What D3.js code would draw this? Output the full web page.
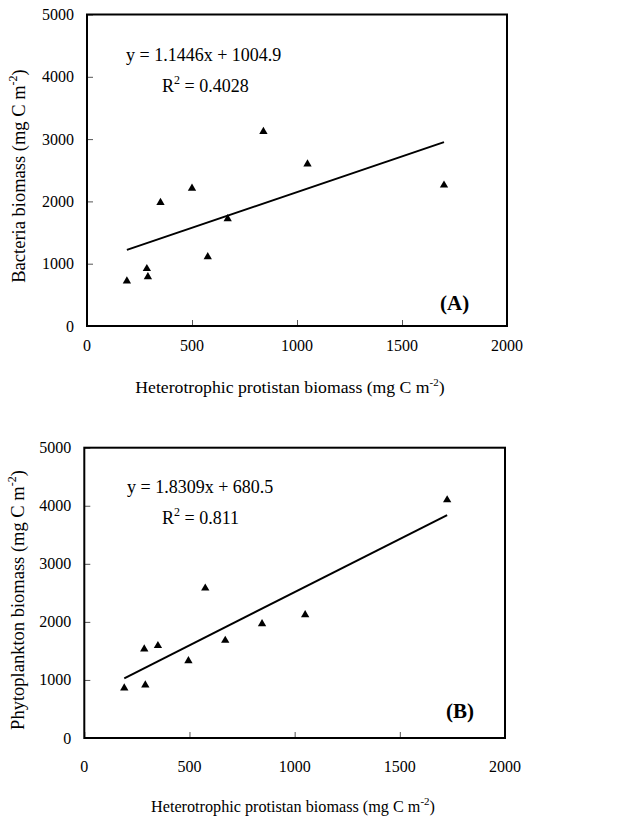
<!DOCTYPE html>
<html>
<head>
  <script src="https://d3js.org/d3.v7.min.js"></script>
  <style>
    body { margin: 0; background: #fff; }
    text { font-family: "Liberation Serif", "Times New Roman", serif; fill: #000; }
    .frame { fill: none; stroke: #000; stroke-width: 2px; }
    .tick line { stroke: #555; }
    .domain { stroke: none; }
  </style>
</head>
<body>
  <svg id="chart" width="626" height="819"></svg>
  <script>
    // panel A: bacteria vs heterotrophic protists
    const protistA = [190, 285, 290, 350, 500, 575, 670, 840, 1050, 1700];
    const bacteria = [720, 920, 790, 1980, 2210, 1110, 1720, 3120, 2600, 2260];
    // panel B: phytoplankton vs heterotrophic protists
    const protistB = [190, 285, 290, 350, 495, 575, 670, 845, 1050, 1725];
    const phyto = [860, 1530, 910, 1590, 1330, 2580, 1680, 1965, 2120, 4100];

    const xTicks = [0, 500, 1000, 1500, 2000];
    const yTicks = [0, 1000, 2000, 3000, 4000, 5000];
    const fitA = { slope: 1.1446, intercept: 1004.9, eq: "y = 1.1446x + 1004.9", r2: " = 0.4028" };
    const fitB = { slope: 1.8309, intercept: 680.5, eq: "y = 1.8309x + 680.5", r2: " = 0.811" };

    const svg = d3.select("svg#chart");

    function drawPanel(cfg) {
      const x = d3.scaleLinear().domain([0, 2000]).range([cfg.left, cfg.right]);
      const y = d3.scaleLinear().domain([0, 5000]).range([cfg.bottom, cfg.top]);
      const g = svg.append("g");

      // inside ticks
      g.append("g")
        .attr("transform", "translate(0," + cfg.bottom + ")")
        .call(d3.axisTop(x).tickValues(xTicks).tickSize(6).tickFormat(""));
      g.append("g")
        .attr("transform", "translate(" + cfg.left + ",0)")
        .call(d3.axisRight(y).tickValues(yTicks).tickSize(6).tickFormat(""));

      g.append("rect").attr("class", "frame")
        .attr("x", cfg.left).attr("y", cfg.top)
        .attr("width", cfg.right - cfg.left).attr("height", cfg.bottom - cfg.top);

      g.selectAll(".xl").data(xTicks).join("text")
        .attr("x", d => x(d)).attr("y", cfg.xLabelY)
        .attr("text-anchor", "middle")
        .style("font-size", "16px")
        .text(d => d);
      g.selectAll(".yl").data(yTicks).join("text")
        .attr("x", cfg.left - 13).attr("y", d => y(d) + 5.5)
        .attr("text-anchor", "end")
        .style("font-size", "16px")
        .text(d => d);

      // regression line
      const x0 = d3.min(cfg.xs), x1 = d3.max(cfg.xs);
      g.append("line")
        .attr("x1", x(x0)).attr("y1", y(cfg.fit.slope * x0 + cfg.fit.intercept))
        .attr("x2", x(x1)).attr("y2", y(cfg.fit.slope * x1 + cfg.fit.intercept))
        .style("stroke", "#000").style("stroke-width", 2);

      g.selectAll("path.pt").data(cfg.xs).join("path")
        .attr("class", "pt")
        .attr("d", d3.symbol(d3.symbolTriangle, 30))
        .attr("transform", (d, i) => "translate(" + x(d) + "," + y(cfg.ys[i]) + ")")
        .style("fill", "#000");

      g.append("text")
        .attr("x", cfg.eqX).attr("y", cfg.eqY)
        .style("font-size", "18px")
        .text(cfg.fit.eq);
      const r = g.append("text")
        .attr("x", cfg.r2X).attr("y", cfg.eqY + 31)
        .style("font-size", "18px");
      r.append("tspan").text("R");
      r.append("tspan").attr("dy", -8).style("font-size", "12px").text("2");
      r.append("tspan").attr("dy", 8).text(cfg.fit.r2);

      g.append("text")
        .attr("x", cfg.tagX).attr("y", cfg.tagY)
        .style("font-size", "21px").style("font-weight", "bold")
        .text(cfg.tag);

      const xt = g.append("text")
        .attr("x", cfg.xTitleX).attr("y", cfg.xTitleY)
        .attr("text-anchor", "middle")
        .style("font-size", cfg.xTitleSize + "px");
      xt.append("tspan").text("Heterotrophic protistan biomass (mg C m");
      xt.append("tspan").attr("dy", -7).style("font-size", "11px").text("-2");
      xt.append("tspan").attr("dy", 7).text(")");

      const yt = g.append("text")
        .attr("transform", "translate(" + cfg.yTitleX + "," + cfg.yTitleY + ") rotate(-90)")
        .attr("text-anchor", "middle")
        .style("font-size", cfg.yTitleSize + "px");
      yt.append("tspan").text(cfg.yName + " (mg C m");
      yt.append("tspan").attr("dy", -8).style("font-size", "12px").text("-2");
      yt.append("tspan").attr("dy", 8).text(")");
    }

    drawPanel({
      xs: protistA, ys: bacteria, fit: fitA, tag: "(A)", yName: "Bacteria biomass",
      left: 87, right: 507, top: 14.5, bottom: 326,
      xLabelY: 351, eqX: 126, eqY: 61, r2X: 162, tagX: 440, tagY: 310,
      xTitleX: 290, xTitleY: 393, xTitleSize: 17.7,
      yTitleX: 25, yTitleY: 176, yTitleSize: 18.5
    });

    drawPanel({
      xs: protistB, ys: phyto, fit: fitB, tag: "(B)", yName: "Phytoplankton biomass",
      left: 84.3, right: 505, top: 447.7, bottom: 738,
      xLabelY: 772, eqX: 127, eqY: 493, r2X: 162, tagX: 446, tagY: 718,
      xTitleX: 293, xTitleY: 812, xTitleSize: 16.2,
      yTitleX: 24, yTitleY: 600, yTitleSize: 18.5
    });
  </script>
</body>
</html>
